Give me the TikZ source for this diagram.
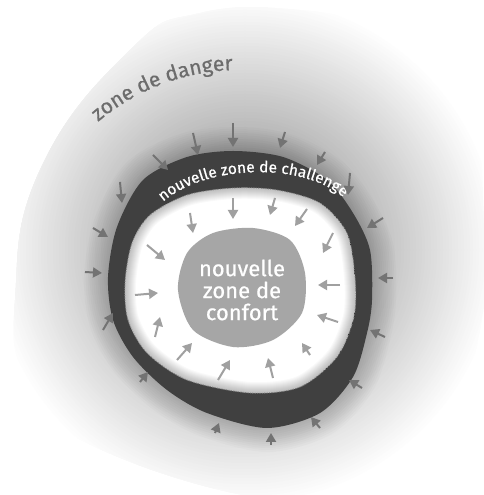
\documentclass[tikz,border=0pt]{standalone}
\usepackage{fontspec}
\setmainfont{Fira Sans}
\newfontfamily\zonefont[FakeBold=0.6]{Fira Sans}
\usepackage{tikz}
\usetikzlibrary{arrows.meta,decorations.text}
\definecolor{ringgray}{RGB}{64,64,64}
\definecolor{comfortgray}{RGB}{166,166,166}
\definecolor{outarrowgray}{RGB}{115,115,115}
\definecolor{inarrowgray}{RGB}{160,160,160}
\definecolor{dangertext}{RGB}{108,108,108}

\def\challengezone{plot[smooth cycle] coordinates {(233,344) (283,338) (327,315) (353,282) (370,245) (372,195) (367,162) (353,118) (320,82) (267,67) (207,82) (167,105) (133,138) (113,175) (108,218) (117,268) (143,315) (187,338)}}
\def\innerzone{plot[smooth cycle] coordinates {(125,212) (128,175) (147,142) (187,115) (250,102) (300,108) (337,138) (354,178) (355,218) (347,262) (320,292) (277,305) (233,307) (187,300) (150,280) (132,252)}}

\begin{document}
\begin{tikzpicture}[x=1pt, y=1pt,
  outarrow/.style={outarrowgray, line width=2pt, -{Triangle[length=9pt,width=10pt]}},
  inarrow/.style={inarrowgray, line width=2pt, -{Triangle[length=9pt,width=10pt]}}]

\useasboundingbox (0,0) rectangle (484,495);

% Danger zone (soft grey blob, darker towards the ring)
\begin{scope}
\clip plot[smooth cycle, tension=0.8] coordinates {(15,195) (40,325) (130,445) (200,482) (300,485) (367,468) (433,428) (473,368) (483,295) (480,165) (433,28) (330,5) (233,2) (67,62) (25,115)};
\foreach \r in {255,252,...,30} {
  \pgfmathsetmacro{\dk}{52*(1-\r/255)}
  \fill[black!\dk] (245,245) circle (\r pt);
}
% halo round the ring
\foreach \w in {48,44,...,4}
  \draw[black, opacity=0.014, line width=\w pt] \challengezone;
\end{scope}

\path[decorate, decoration={text along path, text align=center,
    text={|\zonefont\fontsize{21}{21}\selectfont\color{dangertext}|zone de danger}}]
  (240,205) ++(136:220) arc[start angle=136, end angle=86, radius=220];

% Challenge zone: dark ring
\fill[ringgray] \challengezone;

\path[decorate, decoration={text along path, text align=center,
    text={|\zonefont\fontsize{15.5}{15.5}\selectfont\color{white}|nouvelle zone de challenge}}]
  (150,278) .. controls (185,335) and (325,339) .. (356,282);

% White area inside the ring, shadowed edge
\begin{scope}
\clip \innerzone;
\fill[white] \innerzone;
\foreach \w in {22,20,...,2}
  \draw[black, opacity=0.025, line width=\w pt] \innerzone;
\end{scope}
\draw[black!50, line width=0.8pt, dash pattern=on 1.2pt off 1.2pt] \innerzone;

% Comfort zone
\fill[comfortgray] plot[smooth cycle] coordinates {(187,242) (178,205) (193,165) (233,148) (273,155) (302,182) (305,222) (290,255) (253,267) (213,262)};
\node[text=white, align=center, font=\zonefont\fontsize{22}{22}\selectfont] (comfort) at (242,205) {nouvelle\\zone de\\confort};

% Arrows pushing on the ring
\draw[outarrow] (233,372) -- (233,348);
\draw[outarrow] (193,362) -- (198,340);
\draw[outarrow] (285,363) -- (280,347);
\draw[outarrow] (153,340) -- (168,325);
\draw[outarrow] (325,343) -- (317,330);
\draw[outarrow] (120,313) -- (122,292);
\draw[outarrow] (350,322) -- (348,300);
\draw[outarrow] (93,267) -- (108,258);
\draw[outarrow] (383,277) -- (367,267);
\draw[outarrow] (85,223) -- (102,222);
\draw[outarrow] (393,217) -- (378,217);
\draw[outarrow] (103,165) -- (113,182);
\draw[outarrow] (385,158) -- (370,165);
\draw[outarrow] (140,113) -- (148,123);
\draw[outarrow] (362,107) -- (349,115);
\draw[outarrow] (215,62) -- (219,72);
\draw[outarrow] (320,67) -- (311,78);
\draw[outarrow] (271,50) -- (271,62);

% Arrows pushing on the comfort zone
\draw[inarrow] (190,282) -- (193,262);
\draw[inarrow] (233,297) -- (233,276);
\draw[inarrow] (275,297) -- (270,280);
\draw[inarrow] (307,286) -- (295,269);
\draw[inarrow] (333,262) -- (323,242);
\draw[inarrow] (147,250) -- (165,235);
\draw[inarrow] (340,210) -- (318,210);
\draw[inarrow] (135,200) -- (158,202);
\draw[inarrow] (338,173) -- (317,180);
\draw[inarrow] (155,158) -- (160,178);
\draw[inarrow] (310,140) -- (302,152);
\draw[inarrow] (177,135) -- (192,152);
\draw[inarrow] (273,117) -- (268,137);
\draw[inarrow] (218,115) -- (230,135);

\end{tikzpicture}
\end{document}
